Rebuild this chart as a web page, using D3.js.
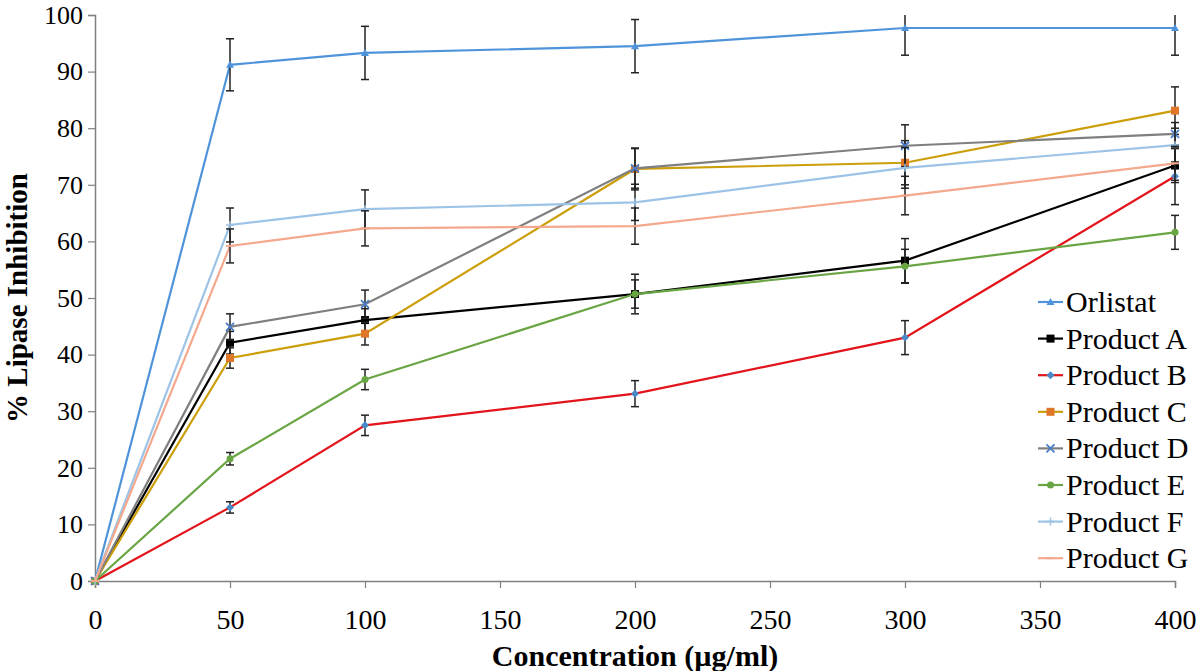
<!DOCTYPE html>
<html>
<head>
<meta charset="utf-8">
<script src="https://cdn.jsdelivr.net/npm/d3@7"></script>
<style>
  body { margin: 0; background: #fff; }
  svg { display: block; }
  text { font-family: "Liberation Serif", "Times New Roman", serif; fill: #000; }
</style>
</head>
<body>
<div id="container"></div>
<script>
const concentrations = [0, 50, 100, 200, 300, 400];
const seriesNames = ["Orlistat", "Product A", "Product B", "Product C", "Product D", "Product E", "Product F", "Product G"];

const orlistat = [0, 91.2, 93.3, 94.5, 97.7, 97.7];
const productA = [0, 42.1, 46.1, 50.7, 56.6, 73.4];
const productB = [0, 13.0, 27.5, 33.1, 43.0, 71.5];
const productC = [0, 39.4, 43.7, 72.8, 73.9, 83.1];
const productD = [0, 44.9, 48.9, 72.9, 76.9, 79.0];
const productE = [0, 21.6, 35.6, 50.7, 55.6, 61.6];
const productF = [0, 62.9, 65.7, 66.9, 73.0, 77.0];
const productG = [0, 59.2, 62.3, 62.7, 68.1, 73.8];

const orlistatErr = [0, 4.6, 4.7, 4.7, 4.8, 4.8];
const productAErr = [0, 2.0, 2.0, 3.5, 3.9, 3.0];
const productBErr = [0, 1.0, 1.8, 2.3, 3.0, 5.0];
const productCErr = [0, 1.8, 2.0, 3.7, 3.9, 4.2];
const productDErr = [0, 2.3, 2.5, 3.5, 3.7, 2.0];
const productEErr = [0, 1.1, 1.8, 2.5, 3.0, 3.0];
const productFErr = [0, 3.0, 3.4, 3.2, 3.6, 3.0];
const productGErr = [0, 3.0, 3.1, 3.2, 3.4, 3.0];

const xTicks = [0, 50, 100, 150, 200, 250, 300, 350, 400];
const yTicks = [0, 10, 20, 30, 40, 50, 60, 70, 80, 90, 100];

const values = [orlistat, productA, productB, productC, productD, productE, productF, productG];
const errors = [orlistatErr, productAErr, productBErr, productCErr, productDErr, productEErr, productFErr, productGErr];

// line colour, marker colour, marker type
const styles = [
  { line: "#4F94DA", mark: "#4F94DA", type: "triangle" },
  { line: "#000000", mark: "#000000", type: "square" },
  { line: "#E3131B", mark: "#4A89C8", type: "diamond" },
  { line: "#CC9E0A", mark: "#E07628", type: "square" },
  { line: "#7F7F7F", mark: "#4A7CC8", type: "x" },
  { line: "#6AA544", mark: "#6AA544", type: "circle" },
  { line: "#9DC3E6", mark: "#9DC3E6", type: "plus" },
  { line: "#F4A88E", mark: "#F4A88E", type: "dash" }
];

const width = 1200, height = 671;
const margin = { top: 15, right: 25, bottom: 90, left: 95 };

const svg = d3.select("#container").append("svg")
  .attr("width", width)
  .attr("height", height);

const x = d3.scaleLinear()
  .domain([0, 400])
  .range([margin.left, width - margin.right]);

const y = d3.scaleLinear()
  .domain([0, 100])
  .range([height - margin.bottom, margin.top]);

// Axes
const xAxis = svg.append("g")
  .attr("transform", `translate(0,${y(0)})`)
  .call(d3.axisBottom(x).tickValues(xTicks).tickSize(7).tickPadding(21).tickFormat(d3.format("d")));
xAxis.selectAll("text").attr("font-size", 28).attr("font-family", "Liberation Serif");

const yAxis = svg.append("g")
  .attr("transform", `translate(${x(0)},0)`)
  .call(d3.axisLeft(y).tickValues(yTicks).tickSize(7).tickPadding(5).tickFormat(d3.format("d")));
yAxis.selectAll("text").attr("font-size", 26).attr("font-family", "Liberation Serif");

svg.selectAll(".domain").attr("stroke", "#808080").attr("stroke-width", 1.5);
svg.selectAll(".tick line").attr("stroke", "#808080").attr("stroke-width", 1.2);

// Axis titles
svg.append("text")
  .attr("x", (x(0) + x(400)) / 2)
  .attr("y", 666)
  .attr("text-anchor", "middle")
  .attr("font-weight", "bold")
  .attr("font-size", 30)
  .text("Concentration (µg/ml)");

svg.append("text")
  .attr("transform", `translate(27,${(y(0) + y(100)) / 2}) rotate(-90)`)
  .attr("text-anchor", "middle")
  .attr("font-weight", "bold")
  .attr("font-size", 29)
  .text("% Lipase Inhibition");

function drawMarker(g, type, color, cx, cy) {
  if (type === "triangle") {
    g.append("path").attr("d", `M${cx},${cy - 4}L${cx + 4},${cy + 3}L${cx - 4},${cy + 3}Z`).attr("fill", color);
  } else if (type === "square") {
    g.append("rect").attr("x", cx - 4).attr("y", cy - 4).attr("width", 8).attr("height", 8).attr("fill", color);
  } else if (type === "diamond") {
    g.append("path").attr("d", `M${cx},${cy - 4}L${cx + 4},${cy}L${cx},${cy + 4}L${cx - 4},${cy}Z`).attr("fill", color);
  } else if (type === "circle") {
    g.append("circle").attr("cx", cx).attr("cy", cy).attr("r", 3.5).attr("fill", color);
  } else if (type === "x") {
    g.append("path").attr("d", `M${cx - 4},${cy - 4}L${cx + 4},${cy + 4}M${cx + 4},${cy - 4}L${cx - 4},${cy + 4}`)
      .attr("stroke", color).attr("stroke-width", 1.8);
  } else if (type === "plus") {
    g.append("path").attr("d", `M${cx - 4},${cy}L${cx + 4},${cy}M${cx},${cy - 4}L${cx},${cy + 4}`)
      .attr("stroke", color).attr("stroke-width", 1.5);
  } else if (type === "dash") {
    g.append("path").attr("d", `M${cx - 4},${cy}L${cx + 4},${cy}`)
      .attr("stroke", color).attr("stroke-width", 2);
  }
}

const line = d3.line()
  .x((d, i) => x(concentrations[i]))
  .y(d => y(d));

// Series
values.forEach((vals, s) => {
  const g = svg.append("g");
  const st = styles[s];

  g.append("path")
    .datum(vals)
    .attr("fill", "none")
    .attr("stroke", st.line)
    .attr("stroke-width", 2.2)
    .attr("d", line);

  // error bars
  vals.forEach((v, i) => {
    const e = errors[s][i];
    if (!e) return;
    const cx = x(concentrations[i]);
    const top = y(Math.min(100, v + e));
    const bot = y(v - e);
    g.append("line").attr("x1", cx).attr("x2", cx).attr("y1", top).attr("y2", bot)
      .attr("stroke", "#222").attr("stroke-width", 1.5);
    if (v + e <= 100) {
      g.append("line").attr("x1", cx - 4).attr("x2", cx + 4).attr("y1", top).attr("y2", top)
        .attr("stroke", "#222").attr("stroke-width", 1.5);
    }
    g.append("line").attr("x1", cx - 4).attr("x2", cx + 4).attr("y1", bot).attr("y2", bot)
      .attr("stroke", "#222").attr("stroke-width", 1.5);
  });

  vals.forEach((v, i) => drawMarker(g, st.type, st.mark, x(concentrations[i]), y(v)));
});

// Legend
const legend = svg.append("g").attr("transform", "translate(1038,302)");
seriesNames.forEach((name, i) => {
  const st = styles[i];
  const row = legend.append("g").attr("transform", `translate(0,${i * 36.6})`);
  row.append("line").attr("x1", 0).attr("x2", 25).attr("y1", 0).attr("y2", 0)
    .attr("stroke", st.line).attr("stroke-width", 2.2);
  drawMarker(row, st.type, st.mark, 12.5, 0);
  row.append("text")
    .attr("x", 28)
    .attr("y", 10)
    .attr("font-size", 30)
    .text(name);
});
</script>
</body>
</html>
